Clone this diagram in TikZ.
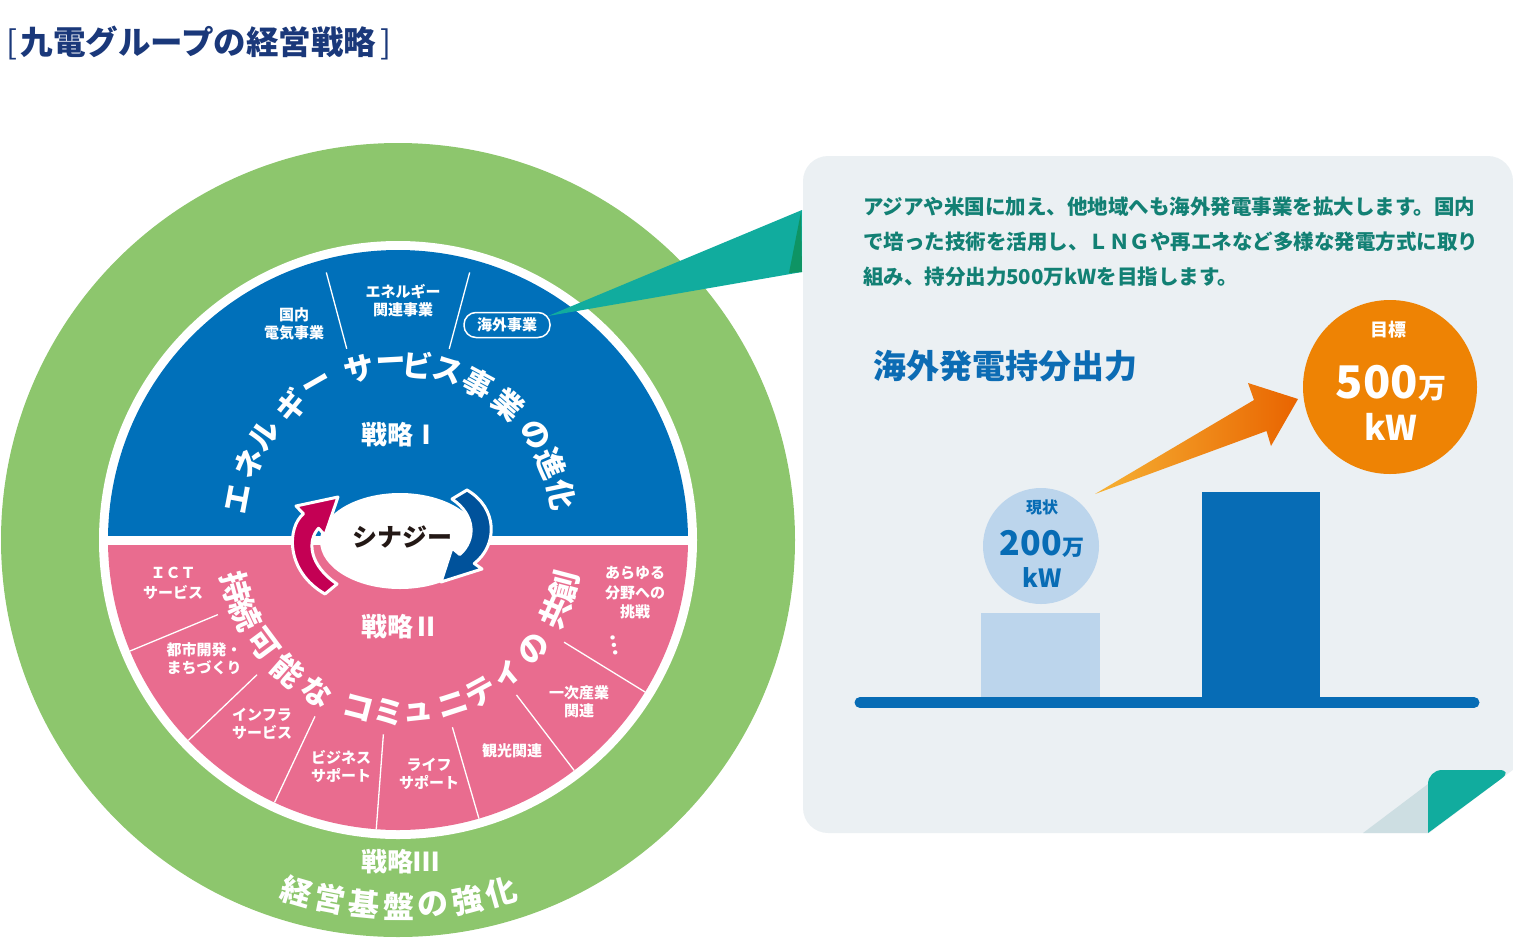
\documentclass[tikz,border=0pt]{standalone}
\usepackage{fontspec}
\setmainfont{Noto Sans CJK JP}
\usetikzlibrary{arrows.meta,shapes.geometric}
\newcommand\fsz[1]{\fontsize{#1}{#1}\selectfont}
\newcommand\fsl[2]{\fontsize{#1}{#2}\selectfont}
\definecolor{cgreen}{RGB}{141,198,109}
\definecolor{cblue}{RGB}{0,112,186}
\definecolor{cpink}{RGB}{233,108,143}
\definecolor{cteal}{RGB}{17,172,158}
\definecolor{cdteal}{RGB}{14,148,100}
\definecolor{ctext}{RGB}{18,128,116}
\definecolor{cnavy}{RGB}{26,56,122}
\definecolor{cpanel}{RGB}{235,240,243}
\definecolor{cshadow}{RGB}{205,222,226}
\definecolor{chead}{RGB}{12,108,180}
\definecolor{cbar}{RGB}{7,108,181}
\definecolor{clight}{RGB}{188,213,236}
\definecolor{corange}{RGB}{238,131,4}
\definecolor{corl}{RGB}{246,178,52}
\definecolor{cord}{RGB}{233,100,0}
\definecolor{ccrim}{RGB}{196,0,84}
\definecolor{cdblue}{RGB}{0,82,155}
\definecolor{cdark}{RGB}{35,24,21}
\tikzset{
  lbl/.style={white, align=center, font=\bfseries\fsl{15}{18}},
  arcA/.style={white, font=\bfseries\fsz{30}},
  divider/.style={white, line width=1.3pt},
  ptext/.style={ctext, anchor=west, font=\bfseries\fsz{20.5}},
}
\begin{document}
\begin{tikzpicture}[x=1pt,y=-1pt, every node/.style={inner sep=0pt, outer sep=0pt}]
\useasboundingbox (0,0) rectangle (1513,940);
% title
\node[anchor=west, cnavy] (title) at (6,43) {\fsz{32.5}\mdseries[\kern0.12em\bfseries 九電グループの経営戦略\mdseries\kern0.12em]};
% circles
\fill[cgreen] (398,540) circle (397pt);
\fill[white] (398,540) circle (299pt);
\begin{scope}
  \clip (0,0) rectangle (800,535);
  \fill[cblue] (398,540) circle (290pt);
\end{scope}
\begin{scope}
  \clip (0,545) rectangle (800,940);
  \fill[cpink] (398,540) circle (290pt);
\end{scope}
% dividers
\foreach \a in {105,75}
  \draw[divider] ({398+198*cos(\a)},{540-198*sin(\a)}) -- ({398+277*cos(\a)},{540-277*sin(\a)});
\foreach \a in {202.5,223.7,244.8,265.7,286.2,307.4,328.4}
  \draw[divider] ({398+195*cos(\a)},{540-195*sin(\a)}) -- ({398+290*cos(\a)},{540-290*sin(\a)});
% blue labels
\node[lbl] (kokunai) at (294,324) {国内\\電気事業};
\node[lbl] (energy) at (403,301) {エネルギー\\関連事業};
% curved text top
\foreach \c/\a [count=\i] in {エ/169.3,ネ/156.4,ル/145.1,ギ/131.4,ー/119.8,サ/104.3,ー/93.1,ビ/83.8,ス/73.2,事/61.6,業/49.1,の/34.8,進/23.5,化/11.9}
  \node[arcA, rotate=\a-90] (t\i) at ({400+165*cos(\a)},{529-165*sin(\a)}) {\c};
\node[white, font=\bfseries\fsz{26}] (s1) at (400,435) {戦略Ⅰ};
% pink labels
\node[lbl, font=\bfseries\fsl{15}{20}] (ict) at (173,583) {ＩＣＴ\\サービス};
\node[lbl] (toshi) at (204,659) {都市開発・\\まちづくり};
\node[lbl] (infra) at (262,724) {インフラ\\サービス};
\node[lbl] (biz) at (341,766) {ビジネス\\サポート};
\node[lbl] (life) at (429,774) {ライフ\\サポート};
\node[lbl] (kanko) at (512,751) {観光関連};
\node[lbl] (ichiji) at (579,702) {一次産業\\関連};
\node[lbl, font=\bfseries\fsl{15}{19.5}] (arayuru) at (635,593) {あらゆる\\分野への\\挑戦};
\node[lbl, font=\bfseries\fsz{20}, rotate=-80] (dots) at (614,645) {…};
\foreach \c/\a [count=\i] in {持/195.1,続/204.9,可/216.7,能/228.8,な/240.8,コ/255.6,ミ/266.1,ュ/276.2,ニ/288,テ/298.4,ィ/309.5,の/321.6,共/335.7,創/345.3}
  \node[white, font=\bfseries\fsz{31}, rotate=\a+90] (b\i) at ({400+170*cos(\a)},{543-170*sin(\a)}) {\c};
\node[white, font=\bfseries\fsz{26}] (s2) at (400,627) {戦略Ⅱ};
% green text
\node[white, font=\bfseries\fsz{26}] (s3) at (400,862) {戦略Ⅲ};
\foreach \c/\a [count=\i] in {経/253.6,営/259,基/264.4,盤/269.8,の/275.2,強/280.6,化/286}
  \node[white, font=\bfseries\fsz{31}, rotate=\a+90] (g\i) at ({400+366*cos(\a)},{540-366*sin(\a)}) {\c};
% panel
\fill[cpanel, rounded corners=25pt] (803,156) rectangle (1513,833);
\fill[white] (1428,834) -- (1513,770) -- (1514,834) -- cycle;
\fill[cshadow] (1363,833) -- (1428,784) -- (1428,833) -- cycle;
\fill[cteal] (1428,833) [rounded corners=14pt] -- (1428,770) -- (1513,770) [sharp corners] -- cycle;
% callout wedge
\coordinate (wtip) at (548,316);
\fill[cteal] (wtip) -- (802,210) -- (802,272) -- cycle;
\fill[cdteal] (801,212) -- (802,272) -- (789,273) -- cycle;
\node[draw=white, line width=1.5pt, rounded corners=12pt, minimum width=86pt, minimum height=25pt, white, font=\bfseries\fsz{15}] (kaigai) at (507,325) {海外事業};
% synergy
\fill[white] (400,541) ellipse (80pt and 48pt);
\filldraw[fill=ccrim, draw=white, line width=3pt, line join=round]
  (338,497) -- (325,535) -- (318.5,528.3) .. controls (307,541) and (309,565) .. (337,584)
  -- (325,594) .. controls (285,571) and (287,527) .. (303.5,513.8) -- (296,506) -- cycle;
\filldraw[fill=cdblue, draw=white, line width=3pt, line join=round]
  (441,582) -- (482,569) -- (474.3,563.5) .. controls (498,545) and (498,508) .. (467,490)
  -- (452,499) .. controls (476,515) and (476,540) .. (459.8,554.5) -- (452,548) -- cycle;
\node[cdark, font=\bfseries\fsz{25}] (syn) at (402,537) {シナジー};
% panel text
\node[ptext] (p1) at (863,207) {アジアや米国に加え、他地域へも海外発電事業を拡大します。国内};
\node[ptext] (p2) at (863,242) {で培った技術を活用し、ＬＮＧや再エネなど多様な発電方式に取り};
\node[ptext] (p3) at (863,277) {組み、持分出力500万kWを目指します。};
\node[chead, anchor=west, font=\bfseries\fsz{33}] (head) at (873,366) {海外発電持分出力};
% chart
\fill[clight] (981,613) rectangle (1100,697);
\fill[cbar] (1202,492) rectangle (1320,697);
\draw[cbar, line width=11pt, line cap=round] (860,702.5) -- (1474,702.5);
\fill[clight] (1041,546) circle (58pt);
\shade[left color=corl, right color=cord] (1095,494) -- (1254,400) -- (1248,383) -- (1298,399) -- (1271,446) -- (1266.5,431) -- cycle;
\fill[corange] (1390,387) circle (87pt);
\node[cbar, font=\bfseries\fsz{16}] (genjo) at (1042,507) {現状};
\node[cbar, anchor=base, font=\bfseries] (v200) at (1042,555) {\fsz{34}200\fsz{22}万};
\node[cbar, anchor=base, font=\bfseries\fsz{25}] (kw1) at (1042,587) {kW};
\node[white, font=\bfseries\fsz{18}] (mokuhyo) at (1388,330) {目標};
\node[white, anchor=base, font=\bfseries] (v500) at (1391,398) {\fsz{45}500\fsz{28}万};
\node[white, anchor=base, font=\bfseries\fsz{34}] (kw2) at (1391,440) {kW};
\end{tikzpicture}
\end{document}
